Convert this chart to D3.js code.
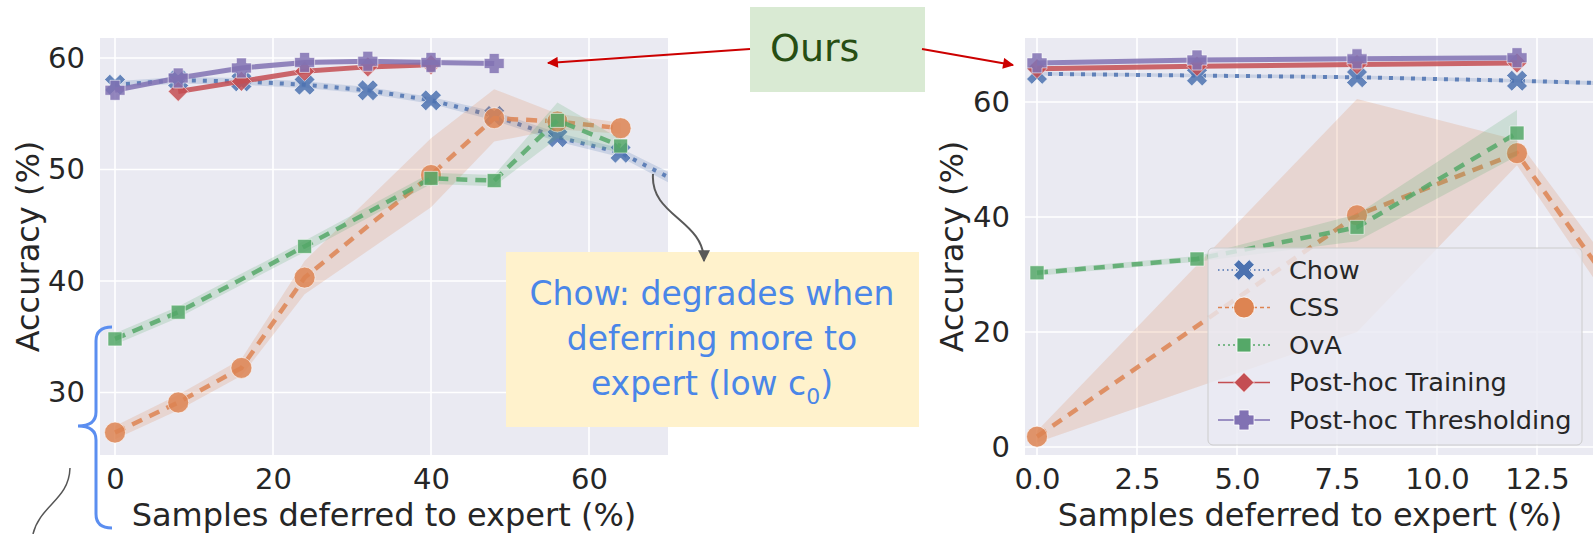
<!DOCTYPE html>
<html><head><meta charset="utf-8">
<script src="https://cdn.jsdelivr.net/npm/d3@7"></script>
<style>
body{margin:0;background:#fff}
svg{display:block}
text{font-family:"DejaVu Sans",sans-serif;fill:#262626}
</style>
</head><body>
<svg id="chart" width="1593" height="534"></svg>
<script>
// ---------------- data ----------------
const seriesNames  = ["Chow", "CSS", "OvA", "Post-hoc Training", "Post-hoc Thresholding"];
const seriesColors = ["#4c72b0", "#dd8452", "#55a868", "#c44e52", "#8172b3"];

// Left panel
const leftXTicks = [0, 20, 40, 60];
const leftYTicks = [30, 40, 50, 60];
const leftChowX  = [0, 8, 16, 24, 32, 40, 48, 56, 64, 72];
const leftChowY  = [57.6, 58.0, 57.9, 57.6, 57.1, 56.2, 54.8, 52.9, 51.5, 48.6];
const leftChowLo = [57.3, 57.7, 57.6, 57.3, 56.8, 55.9, 54.4, 52.5, 51.1, 48.1];
const leftChowHi = [57.9, 58.3, 58.2, 57.9, 57.4, 56.5, 55.2, 53.3, 51.9, 49.1];
const leftCssX   = [0, 8, 16, 24, 40, 48, 56, 64];
const leftCssY   = [26.4, 29.1, 32.2, 40.3, 49.5, 54.6, 54.3, 53.7];
const leftCssLo  = [25.8, 28.4, 31.5, 38.8, 46.6, 52.5, 53.6, 53.2];
const leftCssHi  = [27.0, 29.8, 33.0, 41.8, 52.8, 57.2, 55.0, 54.2];
const leftOvaX   = [0, 8, 24, 40, 48, 56, 64];
const leftOvaY   = [34.8, 37.2, 43.1, 49.2, 49.0, 54.4, 52.1];
const leftOvaLo  = [34.3, 36.7, 42.6, 48.7, 48.5, 52.8, 51.5];
const leftOvaHi  = [35.3, 37.7, 43.6, 49.7, 49.5, 56.0, 52.7];
const leftTrainX = [8, 16, 24, 32, 40];
const leftTrainY = [57.0, 57.9, 58.8, 59.2, 59.4];
const leftThreshX = [0, 8, 16, 24, 32, 40, 48];
const leftThreshY = [57.1, 58.2, 59.1, 59.6, 59.7, 59.6, 59.5];

// Right panel
const rightXTicks = [0, 2.5, 5, 7.5, 10, 12.5];
const rightYTicks = [0, 20, 40, 60];
const rightChowX  = [0, 4, 8, 12, 16];
const rightChowY  = [64.9, 64.6, 64.3, 63.7, 62.9];
const rightChowLo = [64.6, 64.3, 64.0, 63.4, 62.5];
const rightChowHi = [65.2, 64.9, 64.6, 64.0, 63.3];
const rightCssX   = [0, 8, 12, 16];
const rightCssY   = [1.8, 40.3, 51.1, 12.0];
const rightCssLo  = [0.8, 20.0, 49.0, 8.0];
const rightCssHi  = [2.8, 60.5, 53.4, 16.0];
const rightOvaX   = [0, 4, 8, 12];
const rightOvaY   = [30.3, 32.7, 38.2, 54.6];
const rightOvaLo  = [29.8, 32.2, 35.8, 50.6];
const rightOvaHi  = [30.8, 33.2, 40.5, 58.6];
const rightTrainX = [0, 4, 8, 12];
const rightTrainY = [65.8, 66.2, 66.5, 66.8];
const rightThreshX = [0, 4, 8, 12];
const rightThreshY = [66.8, 67.3, 67.5, 67.7];

const xLabel = "Samples deferred to expert (%)";
const yLabel = "Accuracy (%)";

// ---------------- drawing helpers ----------------
const svg = d3.select("#chart");
svg.append("rect").attr("width",1593).attr("height",534).attr("fill","#fff");

const defs = svg.append("defs");
function arrowMarker(id, color, w, h){
  defs.append("marker").attr("id", id)
    .attr("viewBox","0 0 10 10").attr("refX",9).attr("refY",5)
    .attr("markerUnits","userSpaceOnUse")
    .attr("markerWidth", w).attr("markerHeight", h)
    .attr("orient","auto")
    .append("path").attr("d","M0,0 L10,5 L0,10 Z").attr("fill", color);
}
arrowMarker("arrRed", "#cc0000", 14, 11);
arrowMarker("arrGray", "#595959", 13, 12);

function polyPath(pts, s){ return "M" + pts.map(p => [p[0]*s, p[1]*s].join(",")).join("L") + "Z"; }
const plusPts = [[-1,-2],[1,-2],[1,-1],[2,-1],[2,1],[1,1],[1,2],[-1,2],[-1,1],[-2,1],[-2,-1],[-1,-1]];
const xPts = [[-1,-2],[0,-1],[1,-2],[2,-1],[1,0],[2,1],[1,2],[0,1],[-1,2],[-2,1],[-1,0],[-2,-1]];
const markerShapes = [
  polyPath(xPts, 5.2),                                   // X
  d3.symbol(d3.symbolCircle, Math.PI*10.5*10.5)(),       // circle
  "M-7,-7L7,-7L7,7L-7,7Z",                               // square
  "M0,-10L10,0L0,10L-10,0Z",                             // diamond
  polyPath(plusPts, 5.0)                                 // plus
];
const lineDash = ["4,7", "11,8", "11,8", null, null];
const lineWidth = [4, 4.5, 4.5, 5, 5];
const legendDash = ["1.5,3", "4,3", "2,3", null, null];

function drawPanel(cfg){
  const x = d3.scaleLinear().domain(cfg.xDomain).range([cfg.left, cfg.right]);
  const y = d3.scaleLinear().domain(cfg.yDomain).range([cfg.bottom, cfg.top]);
  const g = svg.append("g");
  const clipId = "clip" + cfg.id;
  defs.append("clipPath").attr("id", clipId).append("rect")
    .attr("x", cfg.left).attr("y", cfg.top)
    .attr("width", cfg.right - cfg.left).attr("height", cfg.bottom - cfg.top);

  g.append("rect").attr("x", cfg.left).attr("y", cfg.top)
    .attr("width", cfg.right - cfg.left).attr("height", cfg.bottom - cfg.top)
    .attr("fill", "#eaeaf2");

  // grid
  g.selectAll(".vg").data(cfg.xTicks).join("line")
    .attr("x1", d => x(d)).attr("x2", d => x(d))
    .attr("y1", cfg.top).attr("y2", cfg.bottom)
    .attr("stroke", "#fff").attr("stroke-width", 1.6);
  g.selectAll(".hg").data(cfg.yTicks).join("line")
    .attr("y1", d => y(d)).attr("y2", d => y(d))
    .attr("x1", cfg.left).attr("x2", cfg.right)
    .attr("stroke", "#fff").attr("stroke-width", 1.6);

  // axes
  const xa = g.append("g").attr("transform", `translate(0,${cfg.bottom})`)
    .call(d3.axisBottom(x).tickValues(cfg.xTicks).tickSize(0).tickPadding(13).tickFormat(cfg.xFmt));
  const ya = g.append("g").attr("transform", `translate(${cfg.left},0)`)
    .call(d3.axisLeft(y).tickValues(cfg.yTicks).tickSize(0).tickPadding(15).tickFormat(d3.format("d")));
  [xa, ya].forEach(a => {
    a.select(".domain").remove();
    a.selectAll("text").attr("font-size", 29).attr("font-family", "DejaVu Sans").attr("fill", "#262626");
  });

  // axis labels
  g.append("text").attr("x", (cfg.left + cfg.right) / 2).attr("y", 526)
    .attr("text-anchor", "middle").attr("font-size", 32).text(xLabel);
  g.append("text").attr("transform", `translate(${cfg.yLabelX},${(cfg.top + cfg.bottom) / 2}) rotate(-90)`)
    .attr("text-anchor", "middle").attr("dy", "0.35em").attr("font-size", 32).text(yLabel);

  // series
  const plot = g.append("g").attr("clip-path", `url(#${clipId})`);
  cfg.series.forEach((s, i) => {
    const pts = s.x.map((v, k) => ({x: v, y: s.y[k], lo: s.lo ? s.lo[k] : null, hi: s.hi ? s.hi[k] : null}));
    if (s.lo) {
      plot.append("path").datum(pts)
        .attr("d", d3.area().x(d => x(d.x)).y0(d => y(d.lo)).y1(d => y(d.hi)))
        .attr("fill", seriesColors[i]).attr("fill-opacity", 0.2);
    }
    plot.append("path").datum(pts)
      .attr("d", d3.line().x(d => x(d.x)).y(d => y(d.y)))
      .attr("fill", "none").attr("stroke", seriesColors[i])
      .attr("stroke-width", lineWidth[i]).attr("stroke-opacity", 0.85)
      .attr("stroke-dasharray", lineDash[i]);
    plot.selectAll(null).data(pts).join("path")
      .attr("d", markerShapes[i])
      .attr("transform", d => `translate(${x(d.x)},${y(d.y)})`)
      .attr("fill", seriesColors[i]).attr("fill-opacity", 0.85)
      .attr("stroke", "#fff").attr("stroke-width", 0.8).attr("stroke-opacity", 0.7);
  });
  return {x, y};
}

drawPanel({
  id: "L", left: 100, right: 668, top: 38, bottom: 455,
  xDomain: [-1.9, 70], yDomain: [24.39, 61.79],
  xTicks: leftXTicks, yTicks: leftYTicks, xFmt: d3.format("d"), yLabelX: 28,
  series: [
    {x: leftChowX, y: leftChowY, lo: leftChowLo, hi: leftChowHi},
    {x: leftCssX, y: leftCssY, lo: leftCssLo, hi: leftCssHi},
    {x: leftOvaX, y: leftOvaY, lo: leftOvaLo, hi: leftOvaHi},
    {x: leftTrainX, y: leftTrainY},
    {x: leftThreshX, y: leftThreshY}
  ]
});
drawPanel({
  id: "R", left: 1025, right: 1595, top: 38, bottom: 455,
  xDomain: [-0.3, 13.95], yDomain: [-1.39, 71.13],
  xTicks: rightXTicks, yTicks: rightYTicks, xFmt: d3.format(".1f"), yLabelX: 952,
  series: [
    {x: rightChowX, y: rightChowY, lo: rightChowLo, hi: rightChowHi},
    {x: rightCssX, y: rightCssY, lo: rightCssLo, hi: rightCssHi},
    {x: rightOvaX, y: rightOvaY, lo: rightOvaLo, hi: rightOvaHi},
    {x: rightTrainX, y: rightTrainY},
    {x: rightThreshX, y: rightThreshY}
  ]
});

// legend (right panel)
const lg = svg.append("g");
lg.append("rect").attr("x", 1208).attr("y", 248).attr("width", 374).attr("height", 197)
  .attr("rx", 5).attr("fill", "#eaeaf2").attr("fill-opacity", 0.8)
  .attr("stroke", "#cccccc").attr("stroke-width", 1);
seriesNames.forEach((n, i) => {
  const cy = 270 + i * 37.5;
  lg.append("line").attr("x1", 1218).attr("x2", 1270).attr("y1", cy).attr("y2", cy)
    .attr("stroke", seriesColors[i]).attr("stroke-width", 1.6)
    .attr("stroke-dasharray", legendDash[i]);
  lg.append("path").attr("d", markerShapes[i]).attr("transform", `translate(1244,${cy})`)
    .attr("fill", seriesColors[i]).attr("stroke", "#fff").attr("stroke-width", 0.8);
  lg.append("text").attr("x", 1289).attr("y", cy).attr("dy", "0.35em")
    .attr("font-size", 25.6).text(n);
});

// ---------------- annotations ----------------
const an = svg.append("g");
// "Ours" box
an.append("rect").attr("x", 750).attr("y", 7).attr("width", 175).attr("height", 85).attr("fill", "#d9ead3");
an.append("text").attr("x", 770).attr("y", 61).attr("font-family", "Roboto").attr("font-size", 38)
  .style("fill", "#274e13").text("Ours");
an.append("line").attr("x1", 750).attr("y1", 49).attr("x2", 548).attr("y2", 63)
  .attr("stroke", "#cc0000").attr("stroke-width", 2).attr("marker-end", "url(#arrRed)");
an.append("line").attr("x1", 922).attr("y1", 49).attr("x2", 1013).attr("y2", 65)
  .attr("stroke", "#cc0000").attr("stroke-width", 2).attr("marker-end", "url(#arrRed)");

// Chow annotation box, then the curved arrow on top of it
an.append("rect").attr("x", 506).attr("y", 252).attr("width", 413).attr("height", 175).attr("fill", "#fff2cc");
an.append("path").attr("d", "M653,174 C650,216 704,220 704,261").attr("fill", "none")
  .attr("stroke", "#595959").attr("stroke-width", 2).attr("marker-end", "url(#arrGray)");
const noteLines = ["Chow: degrades when", "deferring more to"];
const noteFont = "'Comic Sans MS','Comic Neue','Open Sans',sans-serif";
noteLines.forEach((t, i) => {
  an.append("text").attr("x", 712).attr("y", 305 + i * 45).attr("text-anchor", "middle")
    .attr("font-family", noteFont).attr("font-size", 33).style("fill", "#4a86e8").text(t);
});
const t3 = an.append("text").attr("x", 712).attr("y", 395).attr("text-anchor", "middle")
  .attr("font-family", noteFont).attr("font-size", 33).style("fill", "#4a86e8");
t3.append("tspan").text("expert (low c");
t3.append("tspan").attr("font-size", 22).attr("dy", 9).text("0");
t3.append("tspan").attr("dy", -9).text(")");

// brace and connector
an.append("path")
  .attr("d", "M112,327 Q96,327 96,341 L96,412 Q96,426 78,426 Q96,426 96,440 L96,514 Q96,528 112,528")
  .attr("fill", "none").attr("stroke", "#5b8ef0").attr("stroke-width", 3);
an.append("path").attr("d", "M70,468 C69,500 40,505 33,534")
  .attr("fill", "none").attr("stroke", "#555").attr("stroke-width", 1.5);
</script>
</body></html>
